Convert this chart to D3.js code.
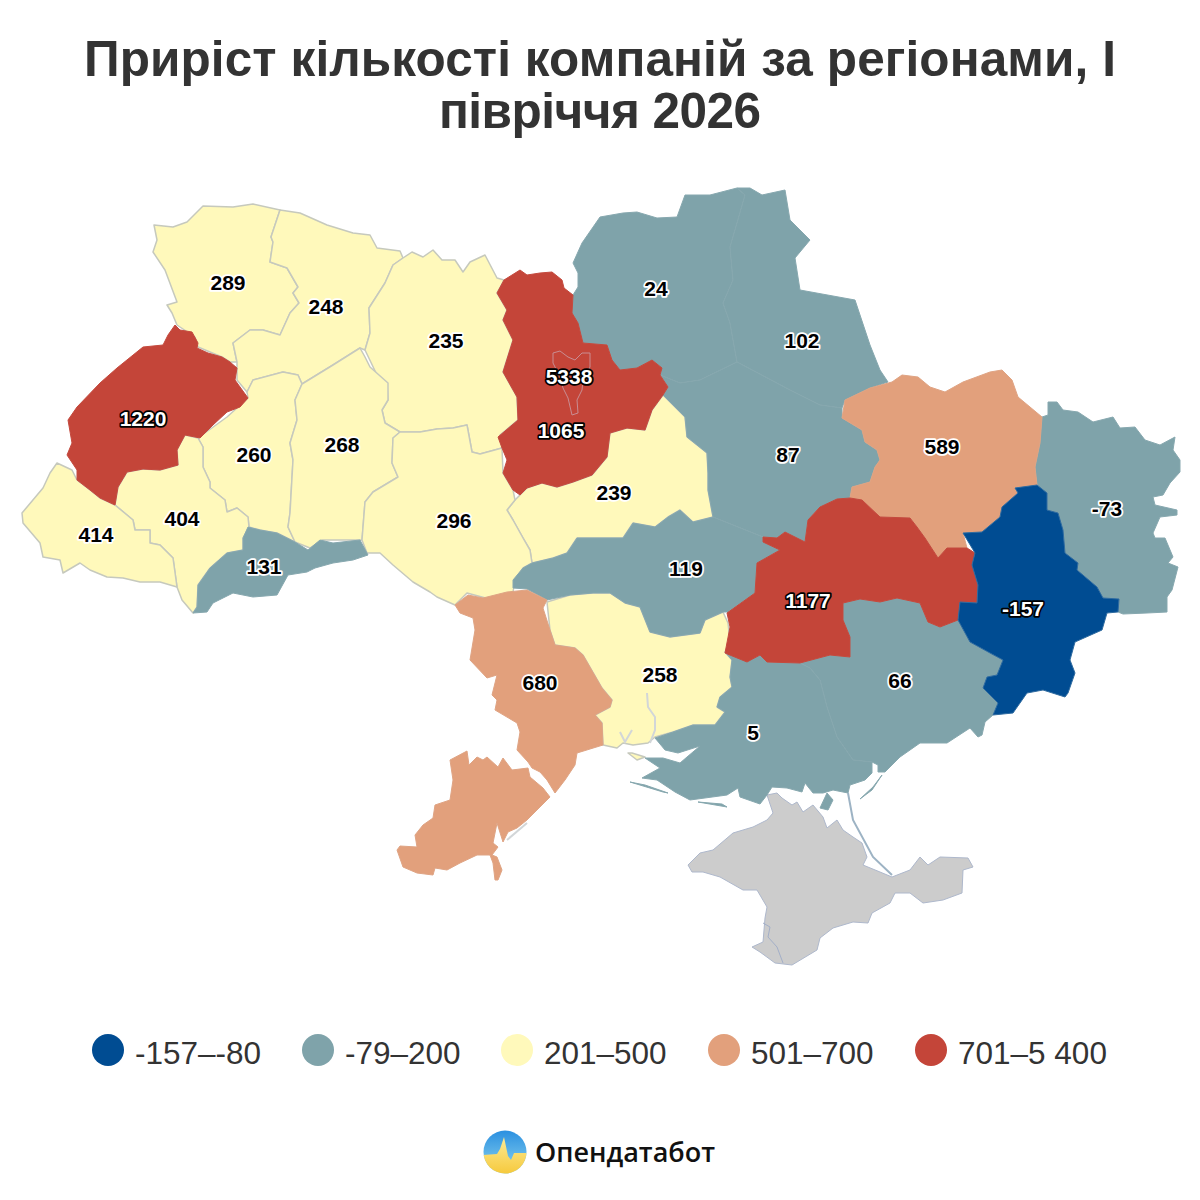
<!DOCTYPE html>
<html>
<head>
<meta charset="utf-8">
<script src="https://cdn.jsdelivr.net/npm/d3@7"></script>
<style>
html, body { margin: 0; padding: 0; background: #fff; }
svg { display: block; }
</style>
</head>
<body>
<svg width="1200" height="1200"></svg>
<script>
// values
const regions = ['Волинська','Рівненська','Житомирська','Чернігівська','Сумська','Київ','Львівська','Київська','Тернопільська','Хмельницька','Полтавська','Харківська','Черкаська','Вінницька','Івано-Франківська','Закарпатська','Чернівецька','Кіровоградська','Луганська','Дніпропетровська','Донецька','Одеська','Миколаївська','Запорізька','Херсонська'];
const values = [289,248,235,24,102,5338,1220,1065,260,268,87,589,239,296,404,414,131,119,-73,1177,-157,680,258,66,5];

const binLimits = [-80,200,500,700];
const binLabels = ['-157–-80','-79–200','201–500','501–700','701–5 400'];
const binColors = ['#004c92','#7fa3aa','#fff9bb','#e2a07c','#c44539'];
const binStrokes = ['#2f6ba0','#87a8af','#c6c9bd','#dfa484','#c44a3e'];

const titleLines = ['Приріст кількості компаній за регіонами, І','півріччя 2026'];
const brand = 'Опендатабот';

const outlines = {
'Волинська':[[154,225],[173,227],[187,222],[203,206],[233,207],[253,204],[280,210],[271,237],[273,242],[270,262],[287,268],[298,287],[293,293],[299,303],[290,313],[280,335],[263,330],[250,330],[233,343],[237,362],[230,362],[222,357],[198,347],[195,337],[177,325],[172,313],[167,305],[177,302],[165,270],[153,252],[157,240]],
'Рівненська':[[280,210],[300,213],[327,225],[353,233],[370,235],[377,248],[400,251],[403,258],[393,265],[385,283],[369,308],[370,333],[365,350],[360,348],[333,365],[302,384],[298,375],[283,372],[253,380],[247,392],[237,380],[237,362],[233,343],[250,330],[263,330],[280,335],[290,313],[299,303],[293,293],[298,287],[287,268],[270,262],[273,242],[271,237]],
'Житомирська':[[403,258],[412,252],[423,257],[433,250],[442,260],[455,260],[463,272],[470,262],[485,255],[497,278],[504,280],[497,293],[507,310],[503,320],[513,340],[503,372],[517,397],[518,420],[500,435],[502,448],[480,454],[472,452],[467,425],[453,428],[437,429],[420,432],[400,432],[385,423],[382,410],[388,400],[387,383],[377,375],[365,350],[370,333],[369,308],[385,283],[393,265]],
'Чернігівська':[[573,295],[578,287],[578,273],[573,263],[582,243],[600,217],[623,213],[637,212],[657,218],[677,217],[685,195],[710,195],[737,188],[745,195],[737,223],[730,247],[733,280],[723,303],[730,323],[737,362],[700,380],[680,383],[660,375],[662,368],[652,360],[637,368],[620,370],[612,360],[607,345],[583,343],[578,323],[572,313]],
'Сумська':[[737,188],[750,188],[762,195],[785,190],[790,220],[810,240],[795,258],[800,290],[855,300],[870,345],[880,370],[888,382],[870,388],[845,400],[842,408],[820,405],[790,390],[737,362],[730,323],[723,303],[733,280],[730,247],[737,223],[745,195]],
'Київська':[[520,270],[527,275],[540,273],[552,272],[562,280],[564,288],[573,295],[572,313],[578,323],[583,343],[607,345],[612,360],[620,370],[637,368],[652,360],[662,368],[660,375],[668,387],[663,395],[652,410],[645,430],[627,428],[610,433],[607,457],[592,475],[573,482],[557,487],[542,483],[527,488],[520,495],[513,490],[503,473],[507,460],[502,448],[498,437],[518,420],[517,397],[503,372],[513,340],[503,320],[507,310],[497,293],[504,280]],
'Київ':[[553,353],[560,351],[568,357],[575,360],[582,353],[590,353],[590,367],[583,380],[582,390],[577,400],[578,413],[572,415],[568,398],[563,388],[560,377],[553,363]],
'Львівська':[[175,325],[180,330],[192,332],[198,343],[197,348],[208,353],[222,357],[230,362],[237,368],[235,380],[248,398],[240,407],[227,412],[213,425],[200,438],[185,435],[177,450],[178,465],[160,470],[143,469],[127,472],[118,487],[115,505],[100,498],[90,490],[77,480],[77,470],[67,455],[72,443],[68,420],[77,407],[100,383],[117,368],[143,347],[163,345],[168,335]],
'Тернопільська':[[253,380],[283,372],[298,375],[302,384],[295,400],[297,420],[290,443],[293,460],[290,513],[288,527],[295,542],[277,533],[260,530],[249,527],[248,517],[237,508],[227,512],[225,500],[210,488],[210,482],[203,467],[203,447],[198,438],[227,417],[248,398],[247,392]],
'Хмельницька':[[302,384],[333,365],[360,348],[365,357],[370,367],[388,383],[388,400],[382,410],[385,423],[400,432],[393,438],[392,463],[398,477],[373,492],[365,502],[362,540],[340,540],[322,540],[310,548],[295,542],[288,527],[290,513],[293,460],[290,443],[297,420],[295,400]],
'Полтавська':[[660,375],[680,383],[700,380],[737,362],[790,390],[820,405],[842,408],[842,418],[862,430],[865,442],[877,450],[880,460],[875,467],[870,482],[852,487],[850,498],[837,499],[820,507],[808,520],[805,542],[785,532],[777,538],[763,537],[713,517],[708,490],[708,473],[707,453],[687,437],[685,417],[663,395],[668,387]],
'Харківська':[[845,400],[870,388],[892,382],[902,375],[918,377],[930,387],[945,392],[963,382],[990,372],[1002,370],[1012,380],[1018,397],[1042,417],[1040,443],[1035,467],[1037,485],[1015,488],[1018,493],[1002,507],[1000,517],[982,532],[963,533],[967,548],[947,548],[938,558],[925,538],[917,527],[910,518],[880,517],[862,500],[850,498],[852,487],[870,482],[875,467],[880,460],[877,450],[865,442],[862,430],[842,418]],
'Черкаська':[[520,495],[527,488],[542,483],[557,487],[573,482],[592,475],[607,457],[610,433],[627,428],[645,430],[652,410],[663,395],[685,417],[687,437],[707,453],[708,473],[708,490],[713,517],[693,522],[680,510],[668,517],[655,527],[633,523],[623,538],[600,538],[577,538],[567,553],[553,558],[532,563],[530,550],[523,538],[513,520],[507,510],[515,500]],
'Вінницька':[[400,432],[420,432],[437,429],[453,428],[467,425],[472,452],[480,454],[502,448],[503,473],[513,490],[515,500],[507,510],[513,520],[523,538],[530,550],[532,563],[523,568],[515,580],[513,592],[493,600],[467,593],[455,605],[437,597],[430,592],[413,582],[393,565],[380,553],[367,553],[362,540],[365,502],[373,492],[398,477],[392,463],[393,438]],
'Івано-Франківська':[[115,505],[118,487],[127,472],[143,469],[160,470],[178,465],[177,450],[185,435],[198,438],[203,447],[203,467],[210,482],[210,488],[225,500],[227,512],[237,508],[248,517],[249,527],[243,538],[243,550],[227,553],[210,568],[198,585],[197,607],[193,613],[182,600],[177,587],[173,558],[160,545],[150,543],[150,530],[135,530],[133,520]],
'Закарпатська':[[57,463],[72,470],[77,480],[90,490],[100,498],[115,505],[133,520],[135,530],[150,530],[150,543],[160,545],[173,558],[177,587],[160,582],[140,582],[123,578],[107,577],[90,570],[80,563],[63,573],[60,560],[43,557],[40,543],[23,523],[22,513],[43,488],[50,473]],
'Чернівецька':[[248,527],[260,530],[277,533],[295,542],[308,550],[320,540],[333,543],[360,540],[368,555],[353,560],[333,563],[315,568],[307,572],[288,575],[277,595],[253,597],[233,593],[213,603],[207,612],[193,613],[197,607],[198,585],[210,568],[227,553],[243,550],[243,538]],
'Кіровоградська':[[532,563],[553,558],[567,553],[577,538],[600,538],[623,538],[633,523],[655,527],[668,517],[680,510],[693,522],[713,517],[763,537],[763,542],[780,550],[757,563],[755,593],[728,612],[723,612],[705,620],[700,633],[670,637],[650,632],[640,607],[625,603],[610,593],[593,593],[570,595],[547,600],[527,589],[513,588],[513,580],[523,568]],
'Луганська':[[1042,417],[1048,415],[1048,402],[1057,402],[1063,410],[1078,412],[1093,422],[1113,417],[1120,428],[1135,427],[1145,440],[1160,445],[1175,437],[1173,450],[1180,460],[1180,472],[1170,483],[1163,495],[1153,497],[1155,505],[1177,510],[1177,515],[1160,517],[1153,533],[1155,538],[1165,538],[1173,557],[1168,563],[1178,567],[1172,590],[1167,597],[1167,612],[1147,613],[1123,614],[1118,612],[1119,599],[1103,598],[1097,587],[1083,575],[1077,570],[1078,563],[1065,553],[1063,530],[1058,513],[1047,510],[1047,493],[1038,486],[1037,485],[1035,467],[1040,443]],
'Дніпропетровська':[[850,498],[862,500],[880,517],[910,518],[917,527],[925,538],[938,558],[947,548],[967,548],[975,553],[972,565],[978,585],[977,603],[960,602],[958,620],[940,627],[928,622],[920,603],[897,598],[880,602],[860,599],[843,603],[843,620],[850,637],[850,657],[830,655],[800,663],[767,662],[760,655],[747,662],[725,653],[730,627],[727,613],[755,593],[757,563],[780,550],[763,542],[763,537],[777,538],[785,532],[805,542],[808,520],[820,507],[837,499]],
'Донецька':[[1015,488],[1037,485],[1047,493],[1047,510],[1058,513],[1063,530],[1065,553],[1078,563],[1077,570],[1097,587],[1103,598],[1119,599],[1118,612],[1107,613],[1102,630],[1075,642],[1070,660],[1075,673],[1068,693],[1065,697],[1043,690],[1027,693],[1013,713],[993,715],[998,703],[983,688],[987,677],[997,675],[1003,660],[990,653],[970,642],[958,620],[960,602],[977,603],[978,585],[972,565],[975,553],[963,533],[982,532],[1000,517],[1002,507],[1018,493]],
'Миколаївська':[[547,602],[570,595],[593,593],[610,593],[625,603],[640,607],[650,632],[670,637],[700,633],[705,620],[723,612],[728,623],[730,642],[725,652],[732,660],[730,677],[732,687],[720,697],[717,707],[725,712],[715,725],[693,725],[673,732],[655,737],[648,743],[633,745],[623,743],[617,748],[603,745],[602,723],[595,715],[610,707],[612,700],[602,688],[583,655],[575,648],[555,645],[550,630]],
'Запорізька':[[850,657],[850,637],[843,620],[843,603],[860,599],[880,602],[897,598],[920,603],[928,622],[940,627],[958,620],[970,642],[990,653],[1003,660],[997,675],[987,677],[983,688],[998,703],[993,715],[985,722],[982,735],[978,737],[970,728],[947,743],[920,743],[900,757],[885,772],[878,772],[878,765],[872,762],[853,760],[837,737],[827,707],[820,680],[810,668],[800,663],[830,655]],
'Херсонська':[[725,652],[747,662],[760,655],[767,662],[800,663],[810,668],[820,680],[827,707],[837,737],[853,760],[872,762],[872,773],[865,780],[850,785],[848,793],[833,790],[823,793],[813,793],[805,783],[802,792],[787,788],[772,787],[767,795],[760,804],[740,797],[738,788],[727,795],[690,800],[675,792],[657,780],[642,778],[660,768],[645,758],[663,758],[680,763],[687,757],[700,746],[678,753],[665,750],[655,738],[673,732],[693,725],[715,725],[725,712],[717,707],[720,697],[732,687],[730,677],[732,660]],
// two parts, the Dniester estuary runs between them
'Одеська':[[455,605],[468,595],[483,598],[507,592],[527,590],[547,600],[543,608],[550,630],[555,645],[575,648],[583,655],[602,688],[612,700],[610,707],[595,715],[602,723],[603,745],[577,753],[575,765],[565,780],[555,793],[547,780],[540,772],[532,768],[528,762],[517,750],[520,732],[517,723],[495,710],[497,700],[492,695],[497,675],[487,678],[470,660],[475,630],[473,618],[460,613]]
};
const odesaSouth = [[450,760],[467,751],[469,765],[477,757],[483,760],[487,757],[498,767],[503,758],[512,770],[528,768],[530,777],[543,788],[550,797],[540,807],[527,820],[517,828],[508,832],[503,842],[497,823],[493,843],[498,847],[492,855],[497,857],[502,870],[498,880],[495,880],[493,863],[490,855],[477,855],[460,863],[447,870],[435,868],[433,875],[417,873],[403,867],[397,850],[400,846],[417,847],[415,835],[423,825],[433,818],[435,805],[450,800],[453,780]];
const crimea = [[767,795],[777,793],[782,798],[792,805],[797,802],[803,812],[813,805],[823,817],[827,828],[837,820],[843,830],[853,837],[862,843],[867,857],[863,865],[880,872],[892,877],[910,870],[920,857],[928,865],[940,857],[968,858],[973,867],[963,870],[962,893],[943,900],[923,903],[910,893],[895,893],[890,903],[872,913],[868,923],[853,922],[833,928],[820,938],[817,950],[792,965],[775,963],[760,952],[752,947],[763,942],[765,918],[767,907],[757,890],[743,890],[720,877],[703,872],[692,872],[688,865],[700,853],[713,850],[733,833],[753,827],[767,820],[773,813]];
const sevastopol = [[763,923],[770,927],[768,937],[777,947],[783,963]];
// small bits of coast
const tealBits = [[[820,808],[827,793],[833,800],[828,810]],[[860,799],[873,787],[882,775],[872,790]],[[630,782],[663,792],[668,793],[645,785]],[[698,802],[727,807],[722,804]]];
const arabat = [[848,793],[853,820],[873,857],[892,875]];
const yellowBit = [[628,753],[637,760],[645,757],[632,753]];
const rivers = [[[647,693],[648,707],[655,717],[655,730],[650,743]],[[620,732],[625,742],[632,730]],[[507,840],[527,823]]];

// label anchors
const labelAt = {
'Волинська':[228,282],'Рівненська':[326,306],'Житомирська':[446,340],'Чернігівська':[656,288],'Сумська':[802,340],'Київ':[569,376],'Львівська':[143,418],'Київська':[561,430],'Тернопільська':[254,454],'Хмельницька':[342,444],'Полтавська':[788,454],'Харківська':[942,446],'Черкаська':[614,492],'Вінницька':[454,520],'Івано-Франківська':[182,518],'Закарпатська':[96,534],'Чернівецька':[264,566],'Кіровоградська':[686,568],'Луганська':[1107,508],'Дніпропетровська':[808,600],'Донецька':[1023,608],'Одеська':[540,682],'Миколаївська':[660,674],'Запорізька':[900,680],'Херсонська':[753,732]
};

const svg = d3.select('svg');
const font = '"Liberation Sans", Arial, sans-serif';

const valueOf = d3.scaleOrdinal().domain(regions).range(values);
const fillOf = d3.scaleThreshold().domain(binLimits).range(binColors);
const strokeOf = d3.scaleThreshold().domain(binLimits).range(binStrokes);

const path = d3.geoPath(d3.geoIdentity());
const ring = pts => pts.concat([pts[0]]);
const poly = (name, parts) => ({type:'Feature', properties:{name:name}, geometry:{type:'MultiPolygon', coordinates:parts.map(p => [ring(p)])}});
const extraParts = {'Херсонська':tealBits, 'Миколаївська':[yellowBit], 'Одеська':[odesaSouth]};

// title
svg.selectAll('text.title')
    .data(titleLines)
    .enter()
    .append('text')
    .attr('class', 'title')
    .attr('x', 600)
    .attr('y', (d, i) => 76 + i * 52)
    .attr('text-anchor', 'middle')
    .attr('textLength', (d, i) => i == 0 ? 1032 : 322)
    .style('font', 'bold 49.5px ' + font)
    .style('fill', '#333333')
    .text(d => d);

const features = regions
    .filter(r => r != 'Київ')
    .map(r => poly(r, [outlines[r]].concat(extraParts[r] || [])));

function rank(f) {
    const v = valueOf(f.properties.name);
    if (v > 200 && v <= 500) return 0;
    if (v > -80 && v <= 200) return 1;
    return 2;
}

const map = svg.append('g');

// grey Crimea under the rest
map.append('path')
    .datum(poly('Крим', [crimea]))
    .attr('d', path)
    .attr('fill', '#cccccc')
    .attr('stroke', '#aeb8cc')
    .attr('stroke-width', 1);
map.append('path')
    .datum({type:'LineString', coordinates:sevastopol})
    .attr('d', path)
    .attr('fill', 'none')
    .attr('stroke', '#a3afc8')
    .attr('stroke-width', 1);

// light bins first so that the darker borders stay on top
map.selectAll('path.region')
    .data(features.slice().sort((a, b) => d3.ascending(rank(a), rank(b))))
    .enter()
    .append('path')
    .attr('class', 'region')
    .attr('d', path)
    .attr('fill', d => fillOf(valueOf(d.properties.name)))
    .attr('stroke', d => strokeOf(valueOf(d.properties.name)))
    .attr('stroke-width', d => rank(d) == 0 ? 1.5 : 1)
    .attr('stroke-linejoin', 'round');

map.append('path')
    .datum({type:'LineString', coordinates:arabat})
    .attr('d', path)
    .attr('fill', 'none')
    .attr('stroke', '#9db3c4')
    .attr('stroke-width', 2);

map.selectAll('path.river')
    .data(rivers)
    .enter()
    .append('path')
    .attr('class', 'river')
    .attr('d', d => path({type:'LineString', coordinates:d}))
    .attr('fill', 'none')
    .attr('stroke', '#d2d6d8')
    .attr('stroke-width', 2);

// Kyiv city is only an outline inside the oblast
map.append('path')
    .datum(poly('Київ', [outlines['Київ']]))
    .attr('d', path)
    .attr('fill', fillOf(5338))
    .attr('stroke', '#c98d92')
    .attr('stroke-width', 1);

// value labels
const darkBins = v => v > 700 || v <= -80;
svg.selectAll('text.value')
    .data(regions)
    .enter()
    .append('text')
    .attr('class', 'value')
    .attr('x', d => labelAt[d][0])
    .attr('y', d => labelAt[d][1] + 7.5)
    .attr('text-anchor', 'middle')
    .style('font', 'bold 21px ' + font)
    .style('paint-order', 'stroke')
    .style('stroke-linejoin', 'round')
    .style('stroke-width', '3.5px')
    .style('fill', d => darkBins(valueOf(d)) ? '#ffffff' : '#000000')
    .style('stroke', d => darkBins(valueOf(d)) ? '#000000' : '#ffffff')
    .text(d => valueOf(d));

// legend
const legendX = d3.scaleOrdinal().domain(binLabels).range([108,318,517,724,931]);
const legend = svg.selectAll('g.legend')
    .data(binLabels)
    .enter()
    .append('g')
    .attr('class', 'legend')
    .attr('transform', d => `translate(${legendX(d)},1050)`);
legend.append('circle')
    .attr('r', 16)
    .attr('fill', (d, i) => binColors[i]);
legend.append('text')
    .attr('x', 27)
    .attr('y', 14)
    .style('font', '31.5px ' + font)
    .style('fill', '#333333')
    .text(d => d);

// logo
const defs = svg.append('defs');
const sky = defs.append('linearGradient').attr('id', 'sky').attr('x1', 0).attr('y1', 0).attr('x2', 0).attr('y2', 1);
sky.append('stop').attr('offset', '0%').attr('stop-color', '#2a8fe0');
sky.append('stop').attr('offset', '100%').attr('stop-color', '#8ed6f0');
const sun = defs.append('linearGradient').attr('id', 'sun').attr('x1', 0).attr('y1', 0).attr('x2', 0).attr('y2', 1);
sun.append('stop').attr('offset', '0%').attr('stop-color', '#fdeb96');
sun.append('stop').attr('offset', '100%').attr('stop-color', '#f6c93c');
defs.append('clipPath').attr('id', 'logoClip').append('circle').attr('cx', 505).attr('cy', 1152).attr('r', 21.5);

const logo = svg.append('g').attr('clip-path', 'url(#logoClip)');
logo.append('rect').attr('x', 483).attr('y', 1130).attr('width', 44).attr('height', 44).attr('fill', 'url(#sky)');
const pulse = [[483,1155],[497,1154],[500,1149],[504,1137],[508,1156],[511,1160],[514,1153],[527,1153],[527,1174],[483,1174]];
logo.append('path').attr('d', d3.line()(pulse) + 'Z').attr('fill', 'url(#sun)');

svg.append('text')
    .attr('x', 535)
    .attr('y', 1162)
    .style('font', '600 27px "Open Sans", "Noto Sans", sans-serif')
    .style('fill', '#111111')
    .text(brand);
</script>
</body>
</html>
